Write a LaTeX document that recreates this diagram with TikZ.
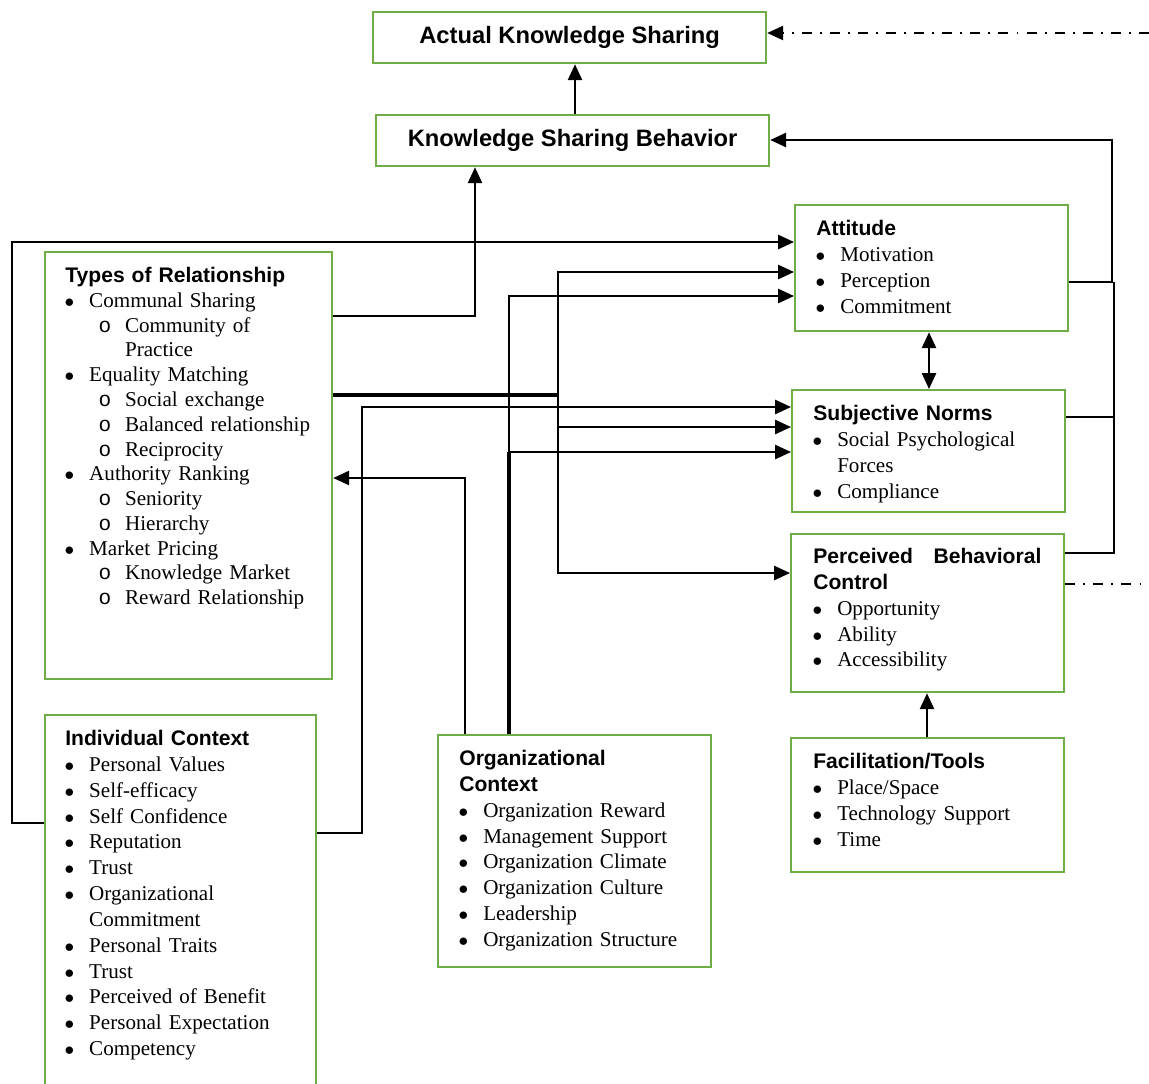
\documentclass[tikz,border=0pt]{standalone}
\usepackage{fontspec}
\setmainfont{Liberation Serif}
\setsansfont{Liberation Sans}
\setmonofont{Liberation Mono}
\usetikzlibrary{arrows.meta}
\usetikzlibrary{calc}
\usetikzlibrary{math}
\setlength{\parindent}{0pt}
\definecolor{kgreen}{RGB}{112,173,71}
\newcommand{\khead}[1]{{\sffamily\bfseries #1}}
\newcommand{\kdot}{\hspace*{-0.4pt}{\fontsize{10.95}{0}\selectfont$\bullet$}}
\newcommand{\bitem}[1]{\par\noindent\makebox[13.6pt][l]{\kdot}#1}
\newcommand{\sitem}[1]{\par\noindent\makebox[34pt][l]{\hspace{19pt}\texttt{o}}#1}
\newcommand{\bcont}[1]{\par\noindent\hspace*{13.6pt}#1}
\newcommand{\scont}[1]{\par\noindent\hspace*{34pt}#1}

\begin{document}
\begin{tikzpicture}[x=0.02cm,y=-0.02cm,>={Triangle[length=9pt,width=8pt]},
	kbox/.style 2 args={draw=kgreen,line width=1.3pt,anchor=north west,minimum width=#1,minimum height=#2,inner sep=0pt},
	ktext/.style={anchor=north west,inner sep=0pt,text width=7cm,align=left,font=\fontsize{12}{14.7}\selectfont},
	ktitle/.style={font=\sffamily\bfseries\fontsize{13.5}{16}\selectfont},
	conn/.style={line width=1.25pt,->},
	bus/.style={line width=2.4pt},
	link/.style={line width=0.6pt},
	dashdot/.style={line width=1.1pt,dash pattern=on 5.7pt off 4.6pt on 1.1pt off 4.6pt}]
	\useasboundingbox (0,0) rectangle (1149,1083);
	\clip (0,0) rectangle (1149,1083);
	\tikzmath{\xup=575; \xloop=1112; \xlink=1114; \xksb=475; \xout=12; \xind=362;
	\xbus=558; \xorg=509; \xback=465; \xmid=929; \xfac=927;
	}
	% boxes
	\node[kbox={7.86cm}{1.02cm},ktitle] (aks) at (372,11) {Actual Knowledge Sharing};
	\node[kbox={7.86cm}{1.02cm},ktitle] (ksb) at (375,114) {Knowledge Sharing Behavior};
	\node[kbox={5.46cm}{2.52cm}] (att) at (794,204) {};
	\node[kbox={5.46cm}{2.44cm}] (sn) at (791,389) {};
	\node[kbox={5.46cm}{3.16cm}] (pbc) at (790,533) {};
	\node[kbox={5.46cm}{2.68cm}] (fac) at (790,737) {};
	\node[kbox={5.74cm}{8.54cm}] (tr) at (44,251) {};
	\node[kbox={5.42cm}{7.8cm}] (ic) at (44,714) {};
	\node[kbox={5.46cm}{4.64cm}] (oc) at (437,734) {};
	% texts
	\node[ktext] (atttxt) at ($(att.north west)+(22,16)$) {\khead{Attitude}
		\bitem{Motivation}\bitem{Perception}\bitem{Commitment}};
	\node[ktext] (sntxt) at ($(sn.north west)+(22,16)$) {\khead{Subjective Norms}
		\bitem{Social Psychological}\bcont{Forces}\bitem{Compliance}};
	\node[ktext] (pbctxt) at ($(pbc.north west)+(23,15)$) {\khead{\hbox to 129.8pt{Perceived\hfill Behavioral}\\Control}
		\bitem{Opportunity}\bitem{Ability}\bitem{Accessibility}};
	\node[ktext] (factxt) at ($(fac.north west)+(23,16)$) {\khead{Facilitation/Tools}
		\bitem{Place/Space}\bitem{Technology Support}\bitem{Time}};
	\node[ktext,font=\fontsize{12}{14.1}\selectfont] (trtxt) at ($(tr.north west)+(21,16)$) {\khead{Types of Relationship}
		\bitem{Communal Sharing}\sitem{Community of}\scont{Practice}
		\bitem{Equality Matching}\sitem{Social exchange}\sitem{Balanced relationship}\sitem{Reciprocity}
		\bitem{Authority Ranking}\sitem{Seniority}\sitem{Hierarchy}
		\bitem{Market Pricing}\sitem{Knowledge Market}\sitem{Reward Relationship}};
	\node[ktext] (ictxt) at ($(ic.north west)+(21,16)$) {\khead{Individual Context}
		\bitem{Personal Values}\bitem{Self-efficacy}\bitem{Self Confidence}\bitem{Reputation}
		\bitem{Trust}\bitem{Organizational}\bcont{Commitment}\bitem{Personal Traits}\bitem{Trust}
		\bitem{Perceived of Benefit}\bitem{Personal Expectation}\bitem{Competency}};
	\node[ktext] (octxt) at ($(oc.north west)+(22,16)$) {\khead{Organizational\\Context}
		\bitem{Organization Reward}\bitem{Management Support}\bitem{Organization Climate}
		\bitem{Organization Culture}\bitem{Leadership}\bitem{Organization Structure}};
	% outcome chain
	\draw[conn] (ksb.north -| \xup,0) -- (aks.south -| \xup,0);
	\coordinate (aksin) at (1149,33);
	\coordinate (pbcout) at (1149,584);
	\draw[conn,dashdot] (aksin) -- (aks.east |- aksin);
	\draw[dashdot] (pbc.east |- pbcout) -- (pbcout);
	\draw[conn] (att.east |- 0,282) -| (\xloop,140) -- (ksb.east |- 0,140);
	\draw[link] (\xlink,282) |- (pbc.east |- 0,553);
	\draw[link] (sn.east |- 0,417) -- (\xlink,417);
	\draw[conn,<->] (att.south -| \xmid,0) -- (sn.north -| \xmid,0);
	\draw[conn] (fac.north -| \xfac,0) -- (pbc.south -| \xfac,0);
	% left side
	\draw[conn] (tr.east |- 0,316) -| (ksb.south -| \xksb,0);
	\draw[conn] (ic.west |- 0,823) -- (\xout,823) |- (att.west |- 0,242);
	\draw[conn] (ic.east |- 0,833) -- (\xind,833) |- (sn.west |- 0,407);
	\draw[bus] (tr.east |- 0,395) -- (\xbus,395) coordinate (trbus);
	\draw[conn] (trbus) |- (att.west |- 0,272);
	\draw[conn] (trbus) |- (pbc.west |- 0,573);
	\draw[conn] (trbus |- 0,427) -- (sn.west |- 0,427);
	% organizational context
	\draw[bus] (oc.north -| \xorg,0) -- (\xorg,452) coordinate (ocbus);
	\draw[conn] (ocbus) -- (sn.west |- ocbus);
	\draw[conn] (ocbus) |- (att.west |- 0,296);
	\draw[conn] (oc.north -| \xback,0) |- (tr.east |- 0,478);
\end{tikzpicture}
\end{document}
